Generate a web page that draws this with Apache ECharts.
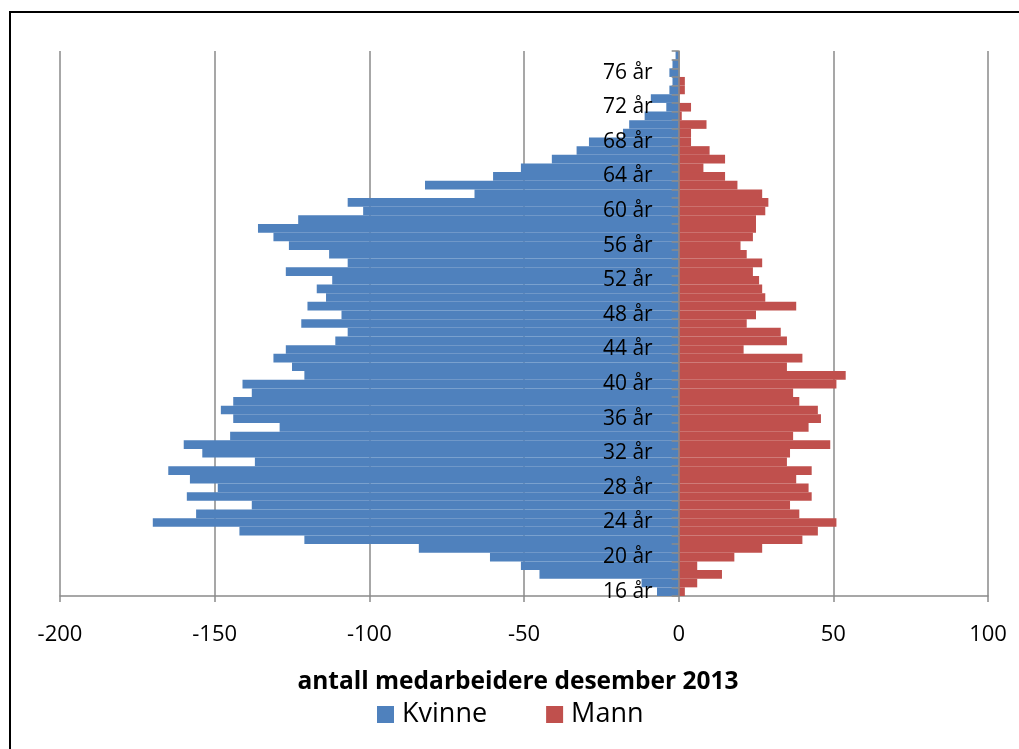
<!DOCTYPE html>
<html>
<head>
<meta charset="utf-8">
<script src="https://cdn.jsdelivr.net/npm/echarts@6/dist/echarts.min.js"></script>
<style>
  html, body { margin: 0; padding: 0; background: #fff; }
  #chart { width: 1019px; height: 749px; }
</style>
</head>
<body>
<div id="chart"></div>
<script>
// Ages 16..78, bottom to top
const ages = [];
for (let a = 16; a <= 78; a++) ages.push(a + ' år');

// Women per age (drawn to the left, negative)
const kvinne = [
  -7, -12, -45, -51, -61, -84, -121, -142, -170, -156,
  -138, -159, -149, -158, -165, -137, -154, -160, -145, -129,
  -144, -148, -144, -138, -141, -121, -125, -131, -127, -111,
  -107, -122, -109, -120, -114, -117, -112, -127, -107, -113,
  -126, -131, -136, -123, -102, -107, -66, -82, -60, -51,
  -41, -33, -29, -18, -16, -11, -4, -9, -3, -2,
  -3, -2, -1
];

// Men per age (drawn to the right)
const mann = [
  2, 6, 14, 6, 18, 27, 40, 45, 51, 39,
  36, 43, 42, 38, 43, 35, 36, 49, 37, 42,
  46, 45, 39, 37, 51, 54, 35, 40, 21, 35,
  33, 22, 25, 38, 28, 27, 26, 24, 27, 22,
  20, 24, 25, 25, 28, 29, 27, 19, 15, 8,
  15, 10, 4, 4, 9, 1, 4, 0, 2, 2,
  0, 0, 0
];

const xTicks = { min: -200, max: 100, step: 50 };
const seriesNames = ['Kvinne', 'Mann'];
const axisTitle = 'antall medarbeidere desember 2013';

const FONT = "'Open Sans', 'Noto Sans', sans-serif";
const GRAY = '#8a8a8a';
const BLUE = '#4F81BD';
const RED = '#C0504D';

// plot box
const GRID_LEFT = 60, GRID_RIGHT = 31, GRID_TOP = 51, GRID_BOTTOM = 153;
const plotWidth = 1019 - GRID_LEFT - GRID_RIGHT;
// shift the age axis from the left edge to the zero line of the value axis
const zeroOffset = -plotWidth * (0 - xTicks.min) / (xTicks.max - xTicks.min);

const chart = echarts.init(document.getElementById('chart'), null, { renderer: 'canvas' });

chart.setOption({
  animation: false,
  backgroundColor: '#ffffff',
  textStyle: { fontFamily: FONT, color: '#000' },
  title: {
    text: axisTitle,
    left: 513,
    top: 665,
    textAlign: 'center',
    textStyle: { fontFamily: FONT, fontSize: 24.5, fontWeight: 'bold', color: '#000' }
  },
  legend: {
    data: seriesNames,
    left: 377,
    top: 701,
    padding: 0,
    itemWidth: 17,
    itemHeight: 17,
    itemGap: 59,
    icon: 'rect',
    textStyle: { fontFamily: FONT, fontSize: 27, color: '#000', padding: [0, 0, 0, 3] }
  },
  grid: {
    left: GRID_LEFT, right: GRID_RIGHT, top: GRID_TOP, bottom: GRID_BOTTOM,
    containLabel: false,
    outerBoundsMode: 'none'
  },
  xAxis: {
    type: 'value',
    min: xTicks.min,
    max: xTicks.max,
    interval: xTicks.step,
    axisLine: { show: true, lineStyle: { color: GRAY, width: 1.5 } },
    axisTick: { show: true, length: 6, lineStyle: { color: GRAY, width: 1.5 } },
    axisLabel: { fontFamily: FONT, fontSize: 22, color: '#000', margin: 28 },
    splitLine: { show: true, lineStyle: { color: GRAY, width: 1.5 } }
  },
  yAxis: {
    type: 'category',
    data: ages,
    position: 'left',
    offset: zeroOffset,
    z: 10,
    axisLine: { show: true, onZero: false, lineStyle: { color: GRAY, width: 1.5 } },
    axisTick: { show: true, interval: 0, length: 7, lineStyle: { color: GRAY, width: 1.5 } },
    axisLabel: { interval: 3, fontFamily: FONT, fontSize: 21, color: '#000', margin: 26 },
    splitLine: { show: false }
  },
  graphic: [{
    type: 'rect',
    silent: true,
    z: 100,
    shape: { x: 10, y: 12, width: 1100, height: 800 },
    style: { fill: 'none', stroke: '#000', lineWidth: 2 }
  }],
  series: [
    {
      name: seriesNames[0],
      type: 'bar',
      stack: 'pyramid',
      data: kvinne,
      barCategoryGap: '0%',
      itemStyle: { color: BLUE }
    },
    {
      name: seriesNames[1],
      type: 'bar',
      stack: 'pyramid',
      data: mann,
      barCategoryGap: '0%',
      itemStyle: { color: RED }
    }
  ]
});
</script>
</body>
</html>
